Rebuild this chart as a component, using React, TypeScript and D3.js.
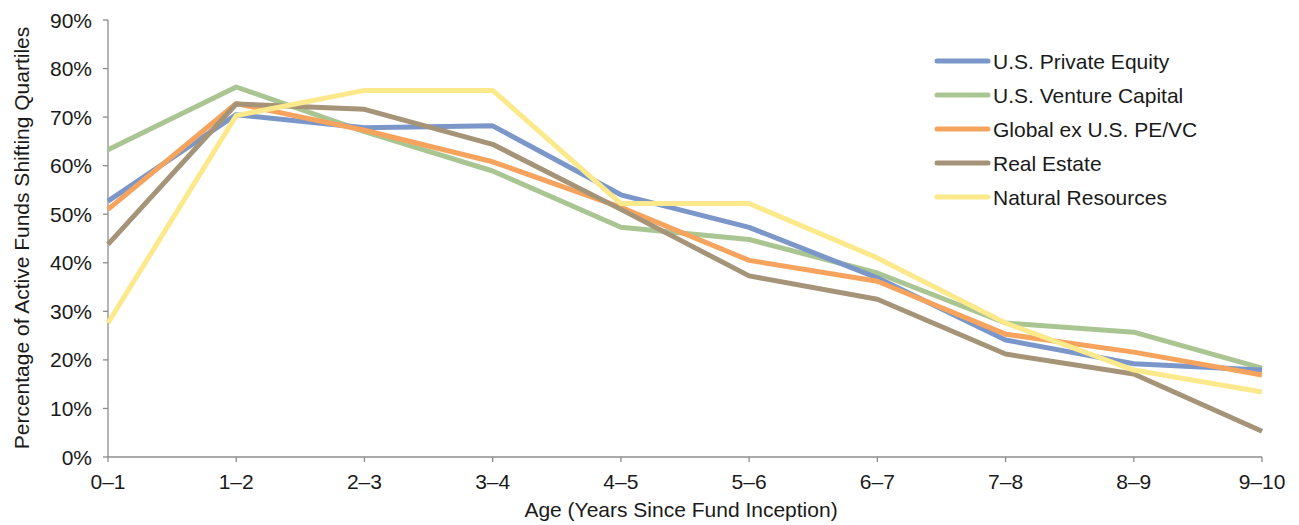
import { useRef, useEffect } from "react";
import * as d3 from "d3";

const categories = ["0–1", "1–2", "2–3", "3–4", "4–5", "5–6", "6–7", "7–8", "8–9", "9–10"];

const privateEquity = [52.7, 70.5, 67.8, 68.2, 54.0, 47.3, 36.9, 24.1, 19.2, 17.9];
const ventureCapital = [63.3, 76.2, 67.0, 58.9, 47.3, 44.8, 37.9, 27.6, 25.7, 18.3];
const globalExUS = [51.0, 72.8, 67.3, 60.8, 51.4, 40.5, 36.2, 25.3, 21.6, 16.9];
const realEstate = [43.8, 72.7, 71.6, 64.4, 51.0, 37.3, 32.5, 21.2, 17.1, 5.3];
const naturalResources = [27.6, 70.3, 75.5, 75.5, 52.2, 52.2, 41.0, 27.6, 17.9, 13.4];

const yTicks = [0, 10, 20, 30, 40, 50, 60, 70, 80, 90];

const series = [
  { name: "U.S. Private Equity", values: privateEquity, color: "#7b97c9" },
  { name: "U.S. Venture Capital", values: ventureCapital, color: "#a9c592" },
  { name: "Global ex U.S. PE/VC", values: globalExUS, color: "#f6a35d" },
  { name: "Real Estate", values: realEstate, color: "#a59478" },
  { name: "Natural Resources", values: naturalResources, color: "#fbe98b" },
];

// draw order: yellow sits on top of the rest in the reference
const drawOrder = [1, 0, 2, 3, 4];

export default function App() {
  const svgRef = useRef<SVGSVGElement>(null);

  useEffect(() => {
    if (!svgRef.current) return;
    const width = 1299;
    const height = 525;
    const font = "'Liberation Sans', Arial, sans-serif";
    const fontSize = 21;

    const svg = d3.select(svgRef.current);
    svg.selectAll("*").remove();
    svg.attr("width", width).attr("height", height);

    const x = d3.scalePoint<string>().domain(categories).range([108, 1262]);
    const y = d3.scaleLinear().domain([0, 90]).range([457, 20]);

    const axisColor = "#8c8c8c";

    // y axis
    const yAxis = svg.append("g");
    yAxis
      .append("line")
      .attr("x1", 108)
      .attr("x2", 108)
      .attr("y1", y(90))
      .attr("y2", y(0))
      .attr("stroke", axisColor)
      .attr("stroke-width", 1.3);
    yAxis
      .selectAll("line.tick")
      .data(yTicks)
      .join("line")
      .attr("class", "tick")
      .attr("x1", 103)
      .attr("x2", 108)
      .attr("y1", (d) => y(d))
      .attr("y2", (d) => y(d))
      .attr("stroke", axisColor)
      .attr("stroke-width", 1.3);
    yAxis
      .selectAll("text")
      .data(yTicks)
      .join("text")
      .attr("x", 92)
      .attr("y", (d) => y(d))
      .attr("dy", "0.36em")
      .attr("text-anchor", "end")
      .attr("font-family", font)
      .attr("font-size", fontSize)
      .attr("fill", "#1a1a1a")
      .text((d) => `${d}%`);

    // x axis
    const xAxis = svg.append("g");
    xAxis
      .append("line")
      .attr("x1", 108)
      .attr("x2", 1262)
      .attr("y1", y(0))
      .attr("y2", y(0))
      .attr("stroke", axisColor)
      .attr("stroke-width", 1.3);
    xAxis
      .selectAll("line.tick")
      .data(categories)
      .join("line")
      .attr("class", "tick")
      .attr("x1", (d) => x(d)!)
      .attr("x2", (d) => x(d)!)
      .attr("y1", y(0))
      .attr("y2", y(0) + 5)
      .attr("stroke", axisColor)
      .attr("stroke-width", 1.3);
    xAxis
      .selectAll("text")
      .data(categories)
      .join("text")
      .attr("x", (d) => x(d)!)
      .attr("y", 489)
      .attr("text-anchor", "middle")
      .attr("font-family", font)
      .attr("font-size", fontSize)
      .attr("fill", "#1a1a1a")
      .text((d) => d);

    // axis titles
    svg
      .append("text")
      .attr("x", 681)
      .attr("y", 517)
      .attr("text-anchor", "middle")
      .attr("font-family", font)
      .attr("font-size", fontSize)
      .attr("fill", "#1a1a1a")
      .text("Age (Years Since Fund Inception)");
    svg
      .append("text")
      .attr("transform", "translate(29,238) rotate(-90)")
      .attr("text-anchor", "middle")
      .attr("font-family", font)
      .attr("font-size", fontSize)
      .attr("fill", "#1a1a1a")
      .text("Percentage of Active Funds Shifting Quartiles");

    // lines
    const line = d3
      .line<number>()
      .x((_, i) => x(categories[i])!)
      .y((d) => y(d));

    svg
      .append("g")
      .selectAll("path")
      .data(drawOrder.map((i) => series[i]))
      .join("path")
      .attr("d", (d) => line(d.values))
      .attr("fill", "none")
      .attr("stroke", (d) => d.color)
      .attr("stroke-width", 5)
      .attr("stroke-linejoin", "round");

    // legend
    const legend = svg
      .append("g")
      .selectAll("g")
      .data(series)
      .join("g")
      .attr("transform", (_, i) => `translate(935,${61 + i * 34})`);
    legend
      .append("line")
      .attr("x1", 2)
      .attr("x2", 53)
      .attr("stroke", (d) => d.color)
      .attr("stroke-width", 5)
      .attr("stroke-linecap", "round");
    legend
      .append("text")
      .attr("x", 58)
      .attr("dy", "0.36em")
      .attr("font-family", font)
      .attr("font-size", fontSize)
      .attr("fill", "#1a1a1a")
      .text((d) => d.name);
  }, []);

  return (
    <div style={{ position: "absolute", left: 0, top: 0 }}>
      <svg ref={svgRef} style={{ display: "block", background: "#fff" }} />
    </div>
  );
}
